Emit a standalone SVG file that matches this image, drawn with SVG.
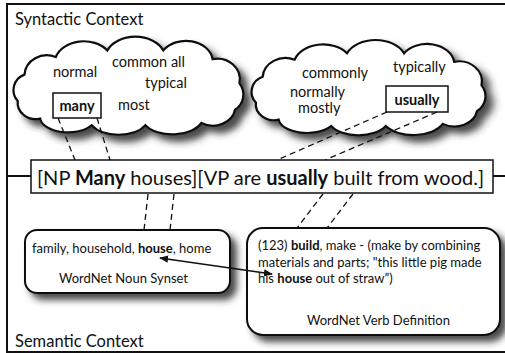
<svg xmlns="http://www.w3.org/2000/svg" width="505" height="353" viewBox="0 0 505 353">
<style>
text{font-family:Lato,"Liberation Sans",sans-serif;fill:#111}
.lbl{font-size:16.5px}
.cw{font-size:14.5px}
.sm{font-size:13px}
.b{font-weight:bold}
.edge{stroke:#111;stroke-width:2;fill:#fff}
.dash{stroke:#111;stroke-width:1.3;fill:none;stroke-dasharray:6 4}
</style>
<defs>
<filter id="sh" x="-10%" y="-10%" width="130%" height="140%">
<feDropShadow dx="6" dy="6" stdDeviation="3.5" flood-color="#2a2a2a" flood-opacity="0.85"/>
</filter>
<marker id="ah" viewBox="0 0 10 10" refX="9" refY="5" markerWidth="9" markerHeight="9" orient="auto-start-reverse" markerUnits="userSpaceOnUse">
<path d="M0,1 L10,5 L0,9 Z" fill="#111"/>
</marker>
<path id="cloud" d="M34,74 A16,15 0 0 1 14,58 A15,15 0 0 1 20,34 A20,19 0 0 1 48,18 A26,20 0 0 1 94,12 A27,20 0 0 1 144,12 A24,19 0 0 1 188,20 A20,19 0 0 1 212,42 A15,16 0 0 1 208,66 A20,17 0 0 1 178,78 A28,17 0 0 1 128,80 A27,16 0 0 1 80,80 A25,14 0 0 1 34,74 Z"/>
</defs>
<g id="frame">
<rect x="7" y="4" width="510" height="348" fill="none" stroke="#111" stroke-width="2"/>
<text class="lbl" x="15" y="25">Syntactic Context</text>
<text class="lbl" x="15" y="347">Semantic Context</text>
</g>
<g id="cloud-left">
<use href="#cloud" transform="translate(11,46) scale(1.12,1.1) translate(-8,-8)" class="edge" filter="url(#sh)"/>
<text class="cw" x="53" y="77">normal</text>
<text class="cw" x="112" y="67">common all</text>
<text class="cw" x="145" y="88">typical</text>
<text class="cw" x="118" y="110">most</text>
<rect x="53" y="93" width="48" height="25" fill="#fff" stroke="#111" stroke-width="1.5"/>
<text class="cw b" x="77" y="111" text-anchor="middle">many</text>
</g>
<g id="cloud-right">
<use href="#cloud" transform="translate(249,49) scale(1.14,1.07) translate(-8,-8)" class="edge" filter="url(#sh)"/>
<text class="cw" x="302" y="78">commonly</text>
<text class="cw" x="393" y="72">typically</text>
<text class="cw" x="290" y="97">normally</text>
<text class="cw" x="298" y="113">mostly</text>
<rect x="386" y="86" width="62" height="26" fill="#fff" stroke="#111" stroke-width="1.5"/>
<text class="cw b" x="417" y="105" text-anchor="middle">usually</text>
</g>
<g id="sentence">
<line x1="7" y1="176" x2="31" y2="176" stroke="#111" stroke-width="2"/>
<line x1="493" y1="176" x2="505" y2="176" stroke="#111" stroke-width="2"/>
<rect x="31" y="160" width="462" height="33" fill="#fff" stroke="#111" stroke-width="1.5"/>
<text x="37" y="185" font-size="20" textLength="447">[NP <tspan class="b">Many</tspan> houses][VP are <tspan class="b">usually</tspan> built from wood.]</text>
</g>
<g id="noun-synset">
<rect x="25" y="230" width="205" height="63" rx="12" class="edge" filter="url(#sh)"/>
<text class="sm" x="32" y="253">family, household, <tspan class="b">house</tspan>, home</text>
<text class="sm" x="59" y="283">WordNet Noun Synset</text>
</g>
<g id="verb-definition">
<rect x="247" y="228" width="253" height="107" rx="16" class="edge" filter="url(#sh)"/>
<text class="sm" x="258" y="250">(123) <tspan class="b">build</tspan>, make - (make by combining</text>
<text class="sm" x="258" y="267">materials and parts; "this little pig made</text>
<text class="sm" x="258" y="283">his <tspan class="b">house</tspan> out of straw”)</text>
<text class="sm" x="307" y="325">WordNet Verb Definition</text>
</g>
<g id="connectors">
<line class="dash" x1="58" y1="118" x2="75" y2="160"/>
<line class="dash" x1="97" y1="118" x2="110" y2="160"/>
<line class="dash" x1="148" y1="194" x2="144" y2="230"/>
<line class="dash" x1="174" y1="194" x2="170" y2="230"/>
<line class="dash" x1="387" y1="112" x2="277" y2="160"/>
<line class="dash" x1="437" y1="112" x2="325" y2="160"/>
<line class="dash" x1="323" y1="194" x2="297" y2="228"/>
<line class="dash" x1="353" y1="194" x2="327" y2="228"/>
<line x1="160" y1="258" x2="272" y2="274" stroke="#111" stroke-width="1.6" marker-start="url(#ah)" marker-end="url(#ah)"/>
</g>
</svg>
